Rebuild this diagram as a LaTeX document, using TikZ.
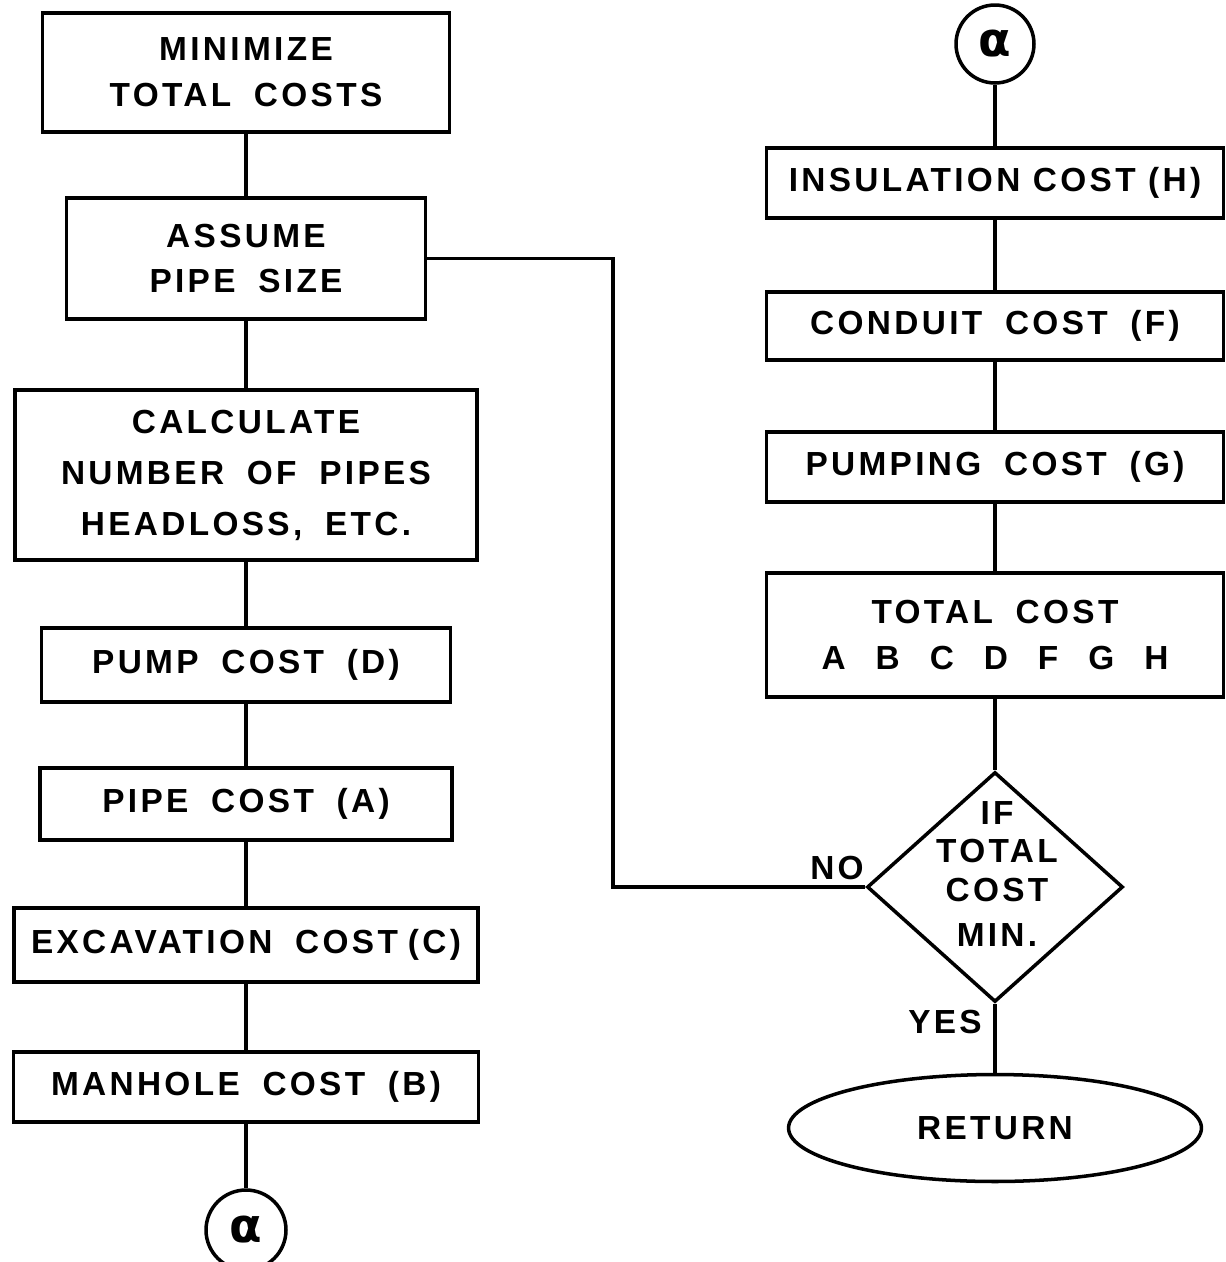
\documentclass[tikz,border=0pt]{standalone}
\usepackage{fontspec}
\setmainfont{Liberation Sans}[LetterSpace=10, WordSpace=1.8]
\newfontfamily\greekfont{DejaVu Sans}
\usetikzlibrary{shapes.geometric}

\begin{document}
\begin{tikzpicture}[x=0.02cm, y=-0.02cm, line width=2pt,
  every node/.style={font=\fontsize{19}{26}\selectfont\bfseries, align=center, inner sep=0pt},
  box/.style={draw, rectangle},
  link/.style={draw, circle, font=\greekfont\bfseries\fontsize{27}{27}\selectfont}]
\useasboundingbox (0,0) rectangle (1225,1262);
% left column
\node[box, minimum width=8.14cm, minimum height=2.38cm] (mini) at (246,72.5) {MINIMIZE\\TOTAL COSTS};
\node[box, minimum width=7.18cm, minimum height=2.42cm] (assume) at (246,258.5) {ASSUME\\PIPE SIZE};
\node[box, minimum width=9.24cm, minimum height=3.4cm] (calc) at (246,475) {CALCULATE\\[3pt]NUMBER OF PIPES\\[3pt]HEADLOSS, ETC.};
\node[box, minimum width=8.18cm, minimum height=1.48cm] (pump) at (246,665) {PUMP COST (D)};
\node[box, minimum width=8.24cm, minimum height=1.44cm] (pipe) at (246,804) {PIPE COST (A)};
\node[box, minimum width=9.28cm, minimum height=1.48cm] (excav) at (246,945) {EXCAVATION COST\hspace{0.2cm}(C)};
\node[box, minimum width=9.3cm, minimum height=1.4cm] (manhole) at (246,1087) {MANHOLE COST (B)};
\node[link, minimum size=1.6cm] (alphaL) at (246,1230) {α};
\draw (mini) -- (assume);
\draw (assume) -- (calc);
\draw (calc) -- (pump);
\draw (pump) -- (pipe);
\draw (pipe) -- (excav);
\draw (excav) -- (manhole);
\draw (manhole) -- (alphaL);
% right column
\node[link, minimum size=1.56cm] (alphaR) at (995,44) {α};
\node[box, minimum width=9.14cm, minimum height=1.4cm] (insul) at (995,183) {INSULATION\hspace{0.25cm}COST\hspace{0.25cm}(H)};
\node[box, minimum width=9.14cm, minimum height=1.36cm] (conduit) at (995,326) {CONDUIT COST (F)};
\node[box, minimum width=9.14cm, minimum height=1.4cm] (pumping) at (995,467) {PUMPING COST (G)};
\node[box, minimum width=9.14cm, minimum height=2.48cm] (total) at (995,635) {TOTAL COST\\A\hspace{0.6cm}B\hspace{0.6cm}C\hspace{0.6cm}D\hspace{0.6cm}F\hspace{0.6cm}G\hspace{0.6cm}H};
\node[draw, diamond, minimum width=5.12cm, minimum height=4.6cm] (dec) at (995,887) {};
\node[font=\fontsize{19}{22}\selectfont\bfseries] (dectext) at (997,874) {IF\\TOTAL\\COST\\[4pt]MIN.};
\node[draw, ellipse, minimum width=8.26cm, minimum height=2.14cm] (ret) at (995,1128) {RETURN};
\draw (alphaR) -- (insul);
\draw (insul) -- (conduit);
\draw (conduit) -- (pumping);
\draw (pumping) -- (total);
\draw (total) -- (dec);
\draw (dec) -- (ret);
% loop back
\coordinate (loop) at (613,258.5);
\draw (assume.east) -- (loop) |- (dec.west);
\node (no) at (837,868) {NO};
\node (yes) at (945,1022) {YES};
\end{tikzpicture}
\end{document}
